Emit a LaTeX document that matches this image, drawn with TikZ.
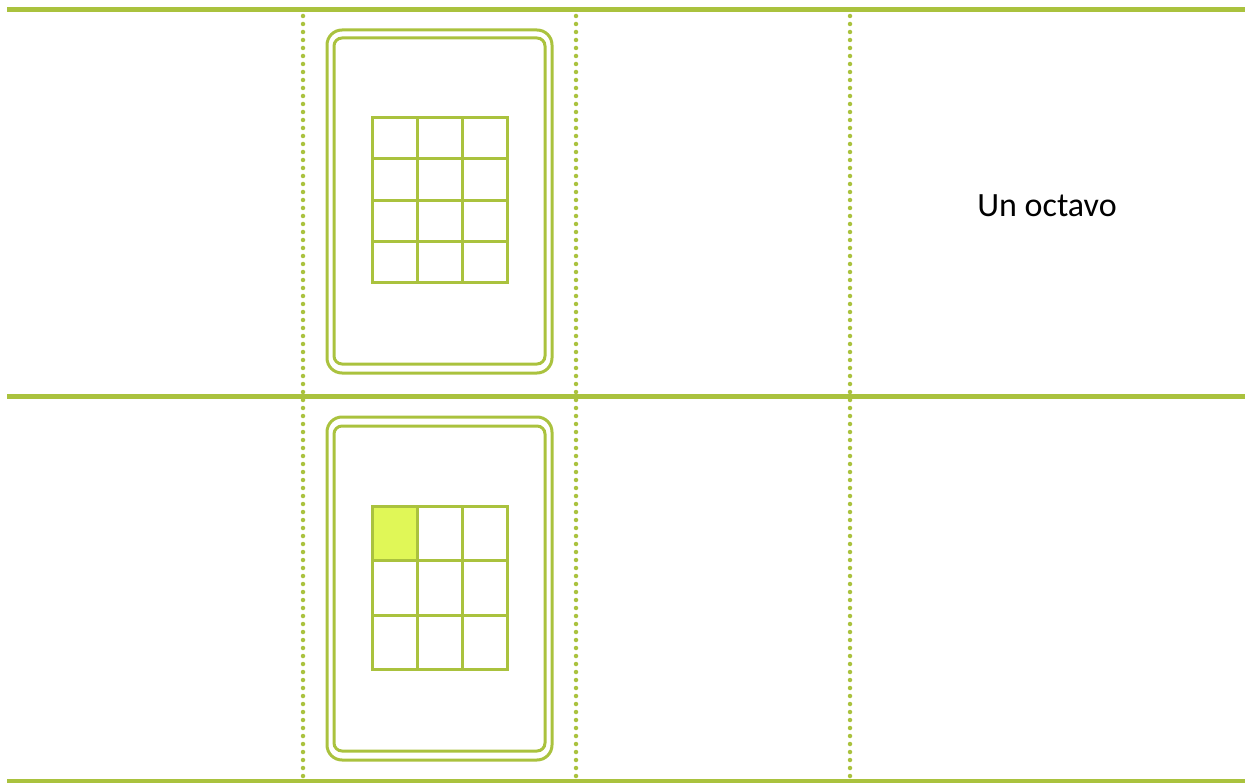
\documentclass[tikz,border=0pt]{standalone}
\usepackage{fontspec}
\setmainfont{Carlito}
\definecolor{lg}{RGB}{170,194,62}
\definecolor{lfill}{RGB}{224,247,87}
\tikzset{
  rule/.style={draw=lg, line width=5pt},
  dotline/.style={draw=lg, line width=4.5pt, line cap=round, dash pattern=on 0pt off 8pt},
  cardout/.style={draw=lg, line width=3pt, rounded corners=15pt},
  cardin/.style={draw=lg, line width=3pt, rounded corners=8pt},
  gridline/.style={draw=lg, line width=3pt},
}
\begin{document}
\begin{tikzpicture}[x=1pt,y=-1pt]
\useasboundingbox (0,0) rectangle (1247,783);
% horizontal rules
\draw[rule] (7,9.5) -- (1245,9.5);
\draw[rule] (7,396) -- (1245,396);
\draw[rule, line width=3.5pt] (7,781) -- (1245,781);
% dotted columns
\foreach \x in {303,576,850} \draw[dotline] (\x,16) -- (\x,780);
% card 1
\draw[cardout] (327,30) rectangle (552,373);
\draw[cardin] (334,38) rectangle (545,364);
% grid 1 (4 rows x 3 cols)
\draw[gridline] (372,118) rectangle (507,283);
\foreach \x in {417,462} \draw[gridline] (\x,118) -- (\x,283);
\foreach \y in {159,201,242} \draw[gridline] (372,\y) -- (507,\y);
% card 2
\draw[cardout] (327,417) rectangle (552,760);
\draw[cardin] (334,426) rectangle (545,751);
% grid 2 (3 rows x 3 cols)
\fill[lfill] (372,506) rectangle (417,560);
\draw[gridline] (372,506) rectangle (507,669);
\foreach \x in {417,462} \draw[gridline] (\x,506) -- (\x,669);
\foreach \y in {560,615} \draw[gridline] (372,\y) -- (507,\y);
% label
\node[anchor=base, font=\fontsize{34}{40}\selectfont, inner sep=0pt] (label) at (1047,217) {Un octavo};
\end{tikzpicture}
\end{document}
